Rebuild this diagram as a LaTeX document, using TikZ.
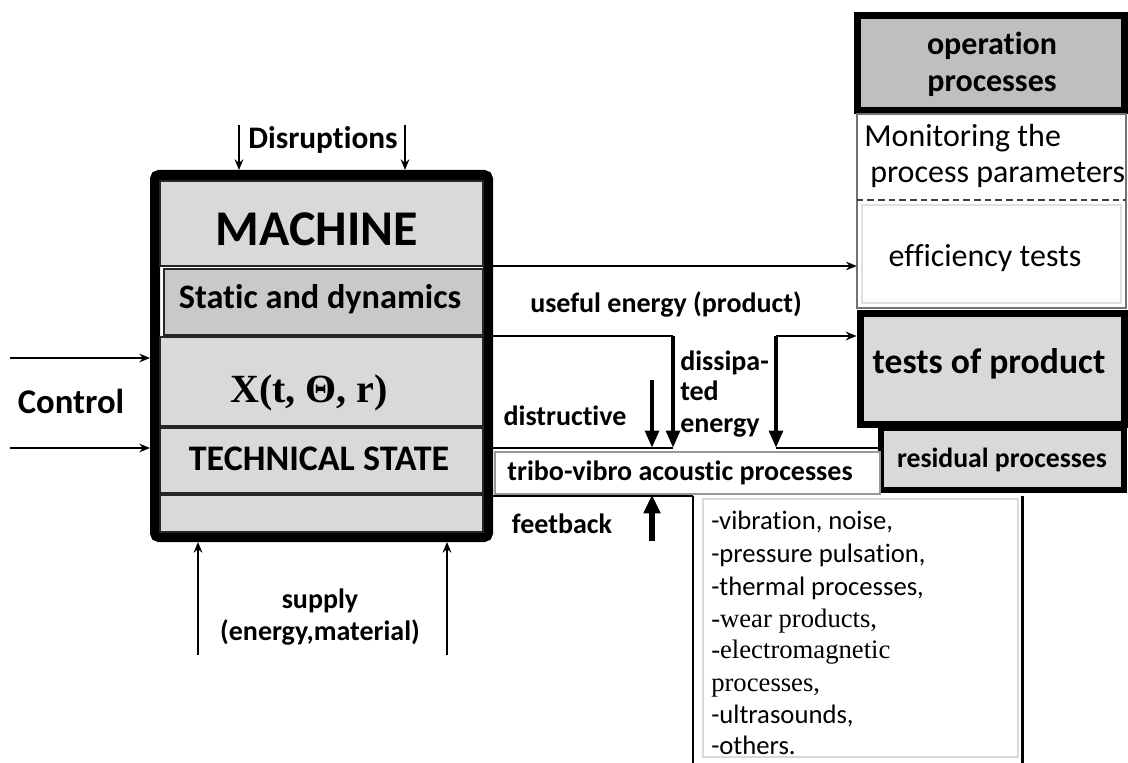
\documentclass[tikz,border=0pt]{standalone}
\usepackage{fontspec}
\setmainfont{Carlito}[Ligatures=NoCommon]
\newfontfamily\tnr{Liberation Serif}
\usetikzlibrary{fit,arrows.meta}
\definecolor{lg}{HTML}{D9D9D9}
\definecolor{mg}{HTML}{C9C9C9}
\definecolor{dg}{HTML}{BFBFBF}
\begin{document}
\begin{tikzpicture}[x=0.75pt,y=-0.75pt,
  every node/.style={inner sep=0pt},
  sect/.style={draw=black!85, line width=1.4pt, fill=lg},
  frame/.style={draw=black, line width=7.5pt},
  thinarr/.style={draw=black, line width=1.4pt, -{Stealth[length=8pt,width=6.5pt]}},
  thickarr/.style={draw=black, line width=3.5pt, -{Triangle[length=13pt,width=10pt]}},
  fbarr/.style={draw=black, line width=3.8pt, -{Triangle[length=14pt,width=12pt]}},
  bl/.style={anchor=base, font=\bfseries\fontsize{#1}{#1}\selectfont},
  bll/.style={anchor=base west, font=\bfseries\fontsize{#1}{#1}\selectfont},
  rgl/.style={anchor=base west, font=\fontsize{#1}{#1}\selectfont},
  tml/.style={anchor=base west, font=\tnr\fontsize{#1}{#1}\selectfont},
]
\useasboundingbox (0,0) rectangle (1128,763);

% ---------- machine ----------
\node[frame, rounded corners=3pt, fit={(155,175) (488,537)}] (machine) {};
\node[sect, fit={(160,181) (483,266)}] (mtitle) {};
\node[bl=37.5] (mtitletxt) at (317,245) {MACHINE};
\node[sect, fill=mg, fit={(164,269) (483,335)}] (static) {};
\node[bl=25.7] (statictxt) at (320,308) {Static and dynamics};
\node[sect, fit={(160,337) (483,426)}] (state) {};
\node[anchor=base, font=\tnr\bfseries\fontsize{30}{30}\selectfont] (xfun) at (309,402) {X(t, Θ, r)};
\node[sect, fit={(160,428) (483,493)}] (tech) {};
\node[bl=27] (techtxt) at (319,470) {TECHNICAL STATE};
\node[sect, fit={(160,495) (483,532)}] (mbottom) {};

% ---------- disruptions ----------
\node[bl=23.5] (disr) at (323,149) {Disruptions};
\coordinate (d1) at (239,125);
\coordinate (d2) at (405,125);
\draw[thinarr] (d1) -- (d1 |- machine.north);
\draw[thinarr] (d2) -- (d2 |- machine.north);

% ---------- control ----------
\node[bl=26] (ctrl) at (71,413) {Control};
\coordinate (c1) at (10,358);
\coordinate (c2) at (10,448);
\draw[thinarr] (c1) -- (c1 -| machine.west);
\draw[thinarr] (c2) -- (c2 -| machine.west);

% ---------- supply ----------
\node[bl=21] (supply1) at (320,608) {supply};
\node[bl=21] (supply2) at (320,640) {(energy,material)};
\coordinate (s1) at (198,655);
\coordinate (s2) at (447,655);
\draw[thinarr] (s1) -- (s1 |- machine.south);
\draw[thinarr] (s2) -- (s2 |- machine.south);

% ---------- right column ----------
\node[draw, line width=5.25pt, fill=dg, fit={(857,16) (1124,111)}] (oper) {};
\node[bl=24] (oper1) at (992,55) {operation};
\node[bl=24] (oper2) at (992,92) {processes};
\node[fit={(857,114) (1126,200)}] (mon) {};
\node[fit={(857,200) (1126,308)}] (eff) {};
\draw[black!55, line width=1.2pt] (mon.north west) rectangle (eff.south east);
\draw[black!75, line width=1.5pt, dash pattern=on 5pt off 3pt] (mon.south west) -- (mon.south east);
\draw[black!12, line width=0.8pt] (862,205) rectangle (1121,303);
\node[rgl=24] (mon1) at (864,147) {Monitoring the};
\node[rgl=24] (mon2) at (870,183) {process parameters};
\node[anchor=base, font=\fontsize{24}{24}\selectfont] (efftxt) at (985,267) {efficiency tests};

\node[draw, line width=4pt, fill=lg, fit={(881,428) (1124,490)}] (resid) {};
\node[bl=20.8] (residtxt) at (1002,467) {residual processes};
\node[draw, line width=5.25pt, fill=lg, fit={(860,313) (1124,424)}] (tests) {};
\node[bl=26.7] (teststxt) at (989,373) {tests of product};

% ---------- tribo box ----------
\node[draw=black!40, line width=1pt, fill=white, fit={(495,452) (880,494)}] (tribo) {};
\node[bl=21] (tribotxt) at (680,480) {tribo-vibro acoustic processes};

% ---------- list box ----------
\node[fit={(693,496) (1022,770)}] (list) {};
\draw[black!15, line width=0.8pt] (703,499) rectangle (1018,757);
\draw[black, line width=1.5pt] (list.north west) -- (list.south west);
\draw[black, line width=2.6pt] (list.north east) -- (list.south east);
\node[rgl=20] (l1) at (711,529) {-vibration, noise,};
\node[rgl=20] (l2) at (711,562) {-pressure pulsation,};
\node[rgl=20] (l3) at (711,595) {-thermal processes,};
\node[tml=20] (l4) at (711,627) {-wear products,};
\node[tml=20] (l5) at (711,658) {-electromagnetic};
\node[tml=20] (l6) at (711,691) {processes,};
\node[rgl=20] (l7) at (711,723) {-ultrasounds,};
\node[rgl=20] (l8) at (711,754) {-others.};

% ---------- connectors ----------
\coordinate (yU) at (0,266);
\coordinate (yD) at (0,336);
\coordinate (yB) at (0,448);
\coordinate (yF) at (0,496);
\draw[thinarr] (machine.east |- yU) -- (eff.west |- yU);
\node[bl=21] (useful) at (666,312) {useful energy (product)};

\coordinate (dtop) at (673,336);
\coordinate (dbot) at (673,448);
\draw[black, line width=2.2pt] (machine.east |- yD) -- (dtop);
\draw[thickarr] (dtop) -- (dbot);
\draw[black, line width=1.4pt] (machine.east |- yB) -- (dbot);
\coordinate (dsh) at (652,380);
\draw[thickarr] (dsh) -- (dsh |- yB);
\node[bl=21] (distr) at (565,425) {distructive};
\node[bll=21] (diss1) at (680,370) {dissipa-};
\node[bll=21] (diss2) at (680,400) {ted};
\node[bll=21] (diss3) at (680,432) {energy};

\coordinate (rtop) at (776,336);
\coordinate (rbot) at (776,448);
\draw[thinarr, line width=1.8pt] (rtop) -- (rtop -| tests.west);
\draw[thickarr] (rtop) -- (rbot);
\draw[black, line width=1.8pt] (rbot) -- (rbot -| resid.west);

\coordinate (fb) at (652,541);
\draw[fbarr] (fb) -- (fb |- tribo.south);
\node[bl=21] (feet) at (562,533) {feetback};

\coordinate (lc) at (693,496);
\draw[black, line width=1.5pt] (machine.east |- yF) -- (lc);
\end{tikzpicture}
\end{document}
